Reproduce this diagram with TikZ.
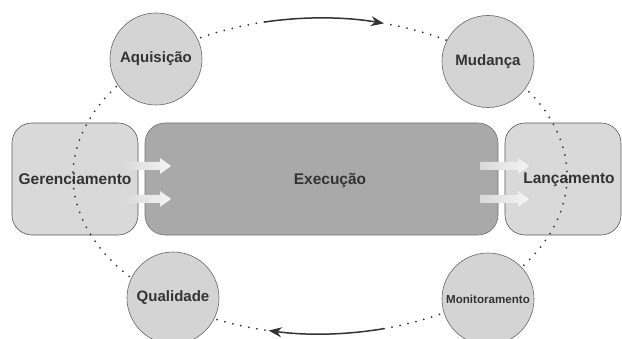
\documentclass[tikz,border=0pt]{standalone}
\usepackage{fontspec}
\setmainfont{Liberation Sans}
\usetikzlibrary{arrows.meta}

\definecolor{boxgray}{HTML}{D9D9D9}
\definecolor{darkbox}{HTML}{A9A9A9}
\definecolor{ballgray}{HTML}{D4D4D4}
\definecolor{inkgray}{HTML}{333333}

\tikzset{
  phase/.style={draw=black!65, fill=boxgray, rounded corners=20pt, minimum height=112pt, inner sep=0pt,
    line width=0.6pt, text=inkgray, font=\bfseries\fontsize{15.5}{18}\selectfont},
  ball/.style={circle, draw=black!60, fill=ballgray, minimum size=92pt, inner sep=0pt,
    line width=0.6pt, text=inkgray, font=\bfseries\fontsize{15}{18}\selectfont},
  orbit/.style={draw=black!80, line width=2pt, dash pattern=on 0pt off 8.2pt, line cap=round},
  flow/.style={draw=inkgray, line width=1.5pt, -{Stealth[length=13pt,width=10pt]}},
  push/.style={left color=boxgray, right color=white!96!black}
}

\begin{document}
\begin{tikzpicture}[x=1pt,y=1pt]
  \useasboundingbox (0,0) rectangle (622,338);
  \coordinate (hub) at (320,162);

  % phases
  \node[phase, minimum width=126pt] (gerenc) at (75,159) {Gerenciamento};
  \node[phase, fill=darkbox, draw=black!55, minimum width=353pt] (exec) at (321.5,159) {};
  \node[text=inkgray, font=\bfseries\fontsize{15.5}{18}\selectfont] (execlbl) at (330,157) {Execução};
  \node[phase, minimum width=116pt] (lanc) at (563,159) {};
  \node[text=inkgray, font=\bfseries\fontsize{15.5}{18}\selectfont] (lanclbl) at (569,158) {Lançamento};

  % block arrows between phases
  \foreach \x/\y in {122/172, 122/139, 480/172, 480/139}
    \path[push] (\x,\y+4) -- ++(38,0) -- ++(0,4) -- ++(11,-8) -- ++(-11,-8) -- ++(0,4) -- ++(-38,0) -- cycle;

  % dotted cycle
  \draw[orbit] (hub) ++(103:247 and 158) arc[start angle=103, end angle=258, x radius=247, y radius=158];
  \draw[orbit] (hub) ++(-75:247 and 158) arc[start angle=-75, end angle=75, x radius=247, y radius=158];

  \node[ball] (aquis) at (156,279) {Aquisição};
  \node[ball] (mudan) at (488,276.5) {Mudança};
  \node[ball] (quali) at (173,40) {Qualidade};
  \node[ball, font=\bfseries\fontsize{11.6}{14}\selectfont] (monit) at (488,39) {Monitoramento};

  \draw[flow] (hub) ++(103:247 and 158) arc[start angle=103, end angle=75, x radius=247, y radius=158];
  \draw[flow] (hub) ++(-75:247 and 158) arc[start angle=-75, end angle=-102, x radius=247, y radius=158];
\end{tikzpicture}
\end{document}
